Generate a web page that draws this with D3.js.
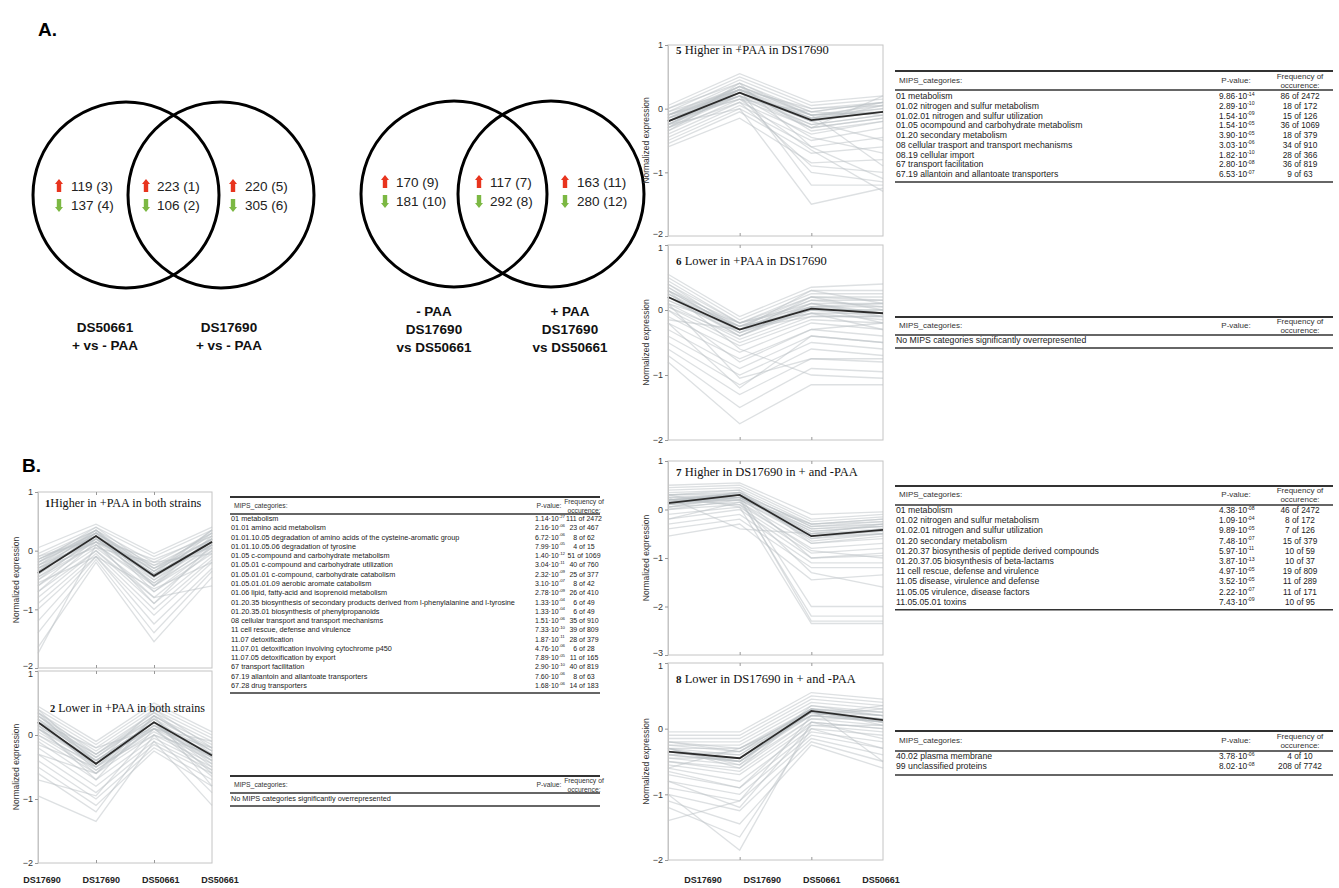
<!DOCTYPE html>
<html><head><meta charset="utf-8">
<script src="https://cdn.jsdelivr.net/npm/d3@7"></script>
<style>body{margin:0;background:#fff}svg{display:block;font-family:"Liberation Sans",Arial,sans-serif}</style>
</head><body>
<svg id="chart" width="1339" height="888"></svg>
<script>
// ---------------- DATA ----------------
const xCategories = ["DS17690","DS17690","DS50661","DS50661"];
const yTicksA = [1,0,-1,-2];
const yTicksB = [1,0,-1,-2,-3];

const venn1Left = ["119 (3)","137 (4)"];
const venn1Mid = ["223 (1)","106 (2)"];
const venn1Right = ["220 (5)","305 (6)"];
const venn2Left = ["170 (9)","181 (10)"];
const venn2Mid = ["117 (7)","292 (8)"];
const venn2Right = ["163 (11)","280 (12)"];
const venn1Labels = [["DS50661","+ vs - PAA"],["DS17690","+ vs - PAA"]];
const venn2Labels = [["- PAA","DS17690","vs DS50661"],["+ PAA","DS17690","vs DS50661"]];

// Cluster mean profiles
const mean1 = [-0.38, 0.25, -0.43, 0.15];
const mean2 = [0.2, -0.45, 0.2, -0.32];
const mean5 = [-0.2, 0.25, -0.18, -0.05];
const mean6 = [0.2, -0.3, 0.02, -0.05];
const mean7 = [0.13, 0.3, -0.55, -0.42];
const mean8 = [-0.35, -0.45, 0.27, 0.13];

// Representative individual gene profiles
const genes1 = [[0.05,0.45,-0.05,0.4],[-0.05,0.4,-0.1,0.35],[-0.1,0.35,-0.2,0.3],[-0.15,0.3,-0.25,0.25],[-0.2,0.3,-0.3,0.2],[-0.25,0.25,-0.35,0.2],[-0.3,0.2,-0.4,0.15],[-0.35,0.2,-0.45,0.1],[-0.4,0.15,-0.5,0.1],[-0.45,0.1,-0.55,0.05],[-0.5,0.1,-0.6,0.0],[-0.6,0.05,-0.7,-0.05],[-0.7,0.0,-0.8,0.0],[-0.8,0.0,-0.9,-0.1],[-0.9,-0.05,-1.0,-0.15],[-1.0,-0.1,-1.1,-0.2],[-1.2,-0.1,-1.25,-0.3],[-1.4,-0.15,-1.4,-0.35],[-1.65,-0.2,-1.55,-0.45],[-1.75,0.1,-0.8,-0.6],[-0.2,0.4,-0.3,0.3],[-0.3,0.05,-0.2,-0.05],[-0.55,-0.1,-0.65,-0.2],[-0.1,0.2,-0.15,0.25],[-0.35,0.35,-0.6,0.25],[-0.15,0.25,-0.4,0.35],[-0.25,0.15,-0.25,0.05],
 [-0.3,0.3,-0.35,0.2],[-0.35,0.25,-0.4,0.15],[-0.4,0.3,-0.5,0.2],[-0.45,0.2,-0.45,0.15],[-0.25,0.35,-0.45,0.3],[-0.5,0.25,-0.4,0.1],[-0.6,0.2,-0.55,0.2],[-0.3,0.15,-0.3,0.1],[-0.2,0.25,-0.6,0.1],[-0.4,0.3,-0.7,0.05],[-0.7,0.15,-0.9,0.1],[-0.15,0.35,-0.35,0.35]];
const genes2 = [[0.45,-0.1,0.5,0.05],[0.4,-0.15,0.45,0.0],[0.35,-0.2,0.4,-0.05],[0.3,-0.25,0.35,-0.1],[0.25,-0.3,0.3,-0.15],[0.2,-0.35,0.25,-0.2],[0.15,-0.4,0.2,-0.25],[0.1,-0.45,0.15,-0.3],[0.05,-0.5,0.1,-0.35],[0.0,-0.55,0.05,-0.4],[-0.05,-0.6,0.0,-0.45],[-0.1,-0.7,-0.05,-0.5],[-0.2,-0.8,-0.1,-0.55],[-0.3,-0.9,-0.15,-0.6],[-0.4,-1.0,-0.2,-0.7],[-0.5,-1.1,-0.25,-0.8],[-0.6,-1.2,0.0,-0.9],[-0.95,-1.35,-0.1,-1.1],[-0.7,-0.95,0.1,-0.65],[0.3,-0.4,0.2,-0.6],[0.1,-0.6,0.3,-0.8],[-0.15,-0.5,0.0,-0.3],[0.35,-0.3,0.35,-0.3],[0.2,-0.2,0.1,-0.1],
 [0.25,-0.4,0.2,-0.3],[0.2,-0.5,0.25,-0.35],[0.15,-0.45,0.15,-0.4],[0.3,-0.35,0.3,-0.25],[0.1,-0.4,0.1,-0.2],[0.35,-0.5,0.2,-0.45],[0.2,-0.3,0.25,-0.4],[0.0,-0.45,0.2,-0.5],[0.4,-0.45,0.4,-0.2],[-0.3,-0.6,0.15,-0.35],[0.15,-0.7,0.3,-0.25],[0.25,-0.55,0.1,-0.55]];
const genes5 = [[0.05,0.55,0.1,0.2],[0.0,0.5,0.05,0.15],[-0.05,0.45,0.0,0.1],[-0.1,0.4,-0.05,0.1],[-0.15,0.35,-0.1,0.05],[-0.2,0.3,-0.15,0.0],[-0.25,0.25,-0.2,-0.05],[-0.3,0.2,-0.25,-0.1],[-0.35,0.15,-0.3,-0.15],[-0.4,0.1,-0.4,-0.2],[-0.45,0.05,-0.5,-0.3],[-0.5,0.0,-0.6,-0.45],[-0.55,-0.05,-0.7,-0.6],[-0.6,-0.15,-0.85,-0.8],[-0.3,0.1,-0.9,-1.0],[-0.2,0.2,-1.0,-1.15],[-0.1,0.3,-1.2,-1.2],[-0.25,0.0,-1.5,-1.25],[-0.15,0.15,-0.65,-1.3],[-0.35,0.3,-0.3,0.2],[0.0,0.4,-0.1,-0.9],[-0.2,0.25,-0.2,-0.5],[-0.1,0.35,-0.05,0.1],[-0.25,0.2,-0.1,-0.05],
 [-0.15,0.3,-0.1,0.0],[-0.2,0.25,-0.15,-0.05],[-0.25,0.3,-0.2,0.05],[-0.1,0.25,-0.25,-0.1],[-0.2,0.35,-0.1,-0.05],[-0.3,0.25,-0.15,0.1],[-0.15,0.2,-0.3,-0.15],[-0.05,0.3,0.0,0.05],[-0.2,0.15,-0.05,-0.1],[-0.25,0.35,-0.35,-0.2],[-0.1,0.2,-0.45,-0.7],[-0.3,0.4,-0.6,-1.1]];
const genes6 = [[0.55,-0.1,0.35,0.4],[0.5,-0.15,0.3,0.3],[0.45,-0.2,0.25,0.25],[0.4,-0.2,0.2,0.2],[0.35,-0.25,0.15,0.15],[0.3,-0.3,0.1,0.1],[0.25,-0.35,0.05,0.05],[0.2,-0.4,0.0,0.0],[0.1,-0.45,-0.05,-0.05],[0.05,-0.5,-0.1,-0.1],[0.0,-0.55,-0.15,-0.2],[-0.1,-0.65,-0.2,-0.3],[-0.2,-0.75,-0.3,-0.4],[-0.3,-0.9,-0.4,-0.5],[-0.4,-1.0,-0.5,-0.6],[-0.5,-1.15,-0.6,-0.7],[-0.6,-1.3,-0.75,-0.8],[-0.7,-1.5,-0.9,-0.95],[-0.8,-1.75,-1.15,-1.15],[0.3,-0.6,-1.0,-1.05],[0.1,-1.05,-0.75,-0.75],[0.4,-0.3,0.3,0.1],[-0.15,-0.3,-0.05,-0.3],[0.2,-0.25,0.2,0.15],[0.3,-0.2,0.1,-0.1],
 [0.2,-0.3,0.05,-0.05],[0.25,-0.25,0.0,0.0],[0.15,-0.35,0.0,-0.1],[0.3,-0.3,0.15,0.05],[0.1,-0.25,-0.05,-0.15],[0.25,-0.4,0.1,-0.05],[0.2,-0.2,0.05,0.1],[0.15,-0.3,-0.1,-0.1],[0.35,-0.35,0.2,0.0],[0.05,-0.4,0.05,-0.2],[0.0,-0.8,-0.3,-0.2],[-0.2,-1.2,-0.4,-0.5]];
const genes7 = [[0.5,0.55,-0.1,-0.05],[0.45,0.5,-0.2,-0.1],[0.4,0.45,-0.25,-0.15],[0.35,0.4,-0.3,-0.2],[0.3,0.35,-0.35,-0.25],[0.25,0.3,-0.4,-0.3],[0.2,0.3,-0.45,-0.35],[0.15,0.25,-0.5,-0.4],[0.1,0.2,-0.6,-0.5],[0.05,0.15,-0.7,-0.6],[0.0,0.1,-0.8,-0.7],[-0.1,0.05,-0.9,-0.8],[-0.2,0.0,-1.0,-0.95],[-0.3,-0.1,-1.1,-1.1],[-0.4,-0.2,-1.2,-1.2],[-0.55,-0.3,-1.45,-1.35],[0.2,0.3,-2.0,-2.0],[0.15,0.2,-2.2,-2.2],[0.1,0.25,-2.3,-2.3],[0.3,0.05,-2.35,-2.35],[0.2,0.1,-1.3,-1.6],[0.25,-0.4,-0.5,-0.3],[0.3,0.3,-0.3,-0.2],[0.2,0.25,-0.55,-0.45],
 [0.15,0.3,-0.55,-0.4],[0.1,0.3,-0.5,-0.45],[0.2,0.35,-0.6,-0.4],[0.05,0.25,-0.45,-0.35],[0.15,0.35,-0.65,-0.5],[0.25,0.25,-0.4,-0.35],[0.1,0.35,-0.35,-0.3],[0.0,0.2,-0.55,-0.5],[0.3,0.4,-0.7,-0.55],[0.2,0.2,-0.3,-0.25],[-0.2,0.15,-0.85,-1.0],[0.05,0.3,-1.0,-0.9]];
const genes8 = [[-0.05,-0.05,0.55,0.45],[-0.1,-0.1,0.5,0.4],[-0.15,-0.15,0.45,0.35],[-0.2,-0.2,0.4,0.3],[-0.25,-0.25,0.35,0.25],[-0.3,-0.3,0.3,0.2],[-0.35,-0.4,0.25,0.15],[-0.4,-0.5,0.2,0.1],[-0.45,-0.55,0.15,0.05],[-0.5,-0.65,0.1,0.0],[-0.55,-0.7,0.05,-0.05],[-0.6,-0.8,0.0,-0.1],[-0.7,-0.9,-0.05,-0.2],[-0.8,-1.0,-0.1,-0.3],[-0.9,-1.1,-0.15,-0.4],[-1.0,-1.25,-0.2,-0.5],[-1.1,-1.45,-0.25,-0.6],[-1.2,-1.65,0.0,-0.3],[-1.0,-1.85,0.1,0.0],[-1.4,-1.1,0.2,0.3],[-0.3,-0.6,0.3,-0.5],[-0.6,-0.3,0.2,0.35],[-0.2,-0.35,0.3,0.2],[-0.3,-0.5,0.25,0.1],
 [-0.35,-0.45,0.25,0.15],[-0.3,-0.4,0.3,0.1],[-0.4,-0.5,0.25,0.2],[-0.25,-0.35,0.2,0.15],[-0.35,-0.5,0.3,0.05],[-0.45,-0.45,0.2,0.1],[-0.3,-0.55,0.35,0.2],[-0.2,-0.3,0.25,0.1],[-0.5,-0.6,0.15,0.15],[-0.4,-0.35,0.3,0.25],[-0.65,-0.9,0.1,-0.15],[-0.8,-1.2,0.05,0.05]];

// MIPS tables: [category, mantissa, exponent, frequency]
const table1Rows = [
 ["01 metabolism","1.14","-27","111 of 2472"],
 ["01.01 amino acid metabolism","2.16","-06","23 of 467"],
 ["01.01.10.05 degradation of amino acids of the cysteine-aromatic group","6.72","-06","8 of 62"],
 ["01.01.10.05.06 degradation of tyrosine","7.99","-05","4 of 15"],
 ["01.05 c-compound and carbohydrate metabolism","1.40","-12","51 of 1069"],
 ["01.05.01 c-compound and carbohydrate utilization","3.04","-11","40 of 760"],
 ["01.05.01.01 c-compound, carbohydrate catabolism","2.32","-09","25 of 377"],
 ["01.05.01.01.09 aerobic aromate catabolism","3.10","-07","8 of 42"],
 ["01.06 lipid, fatty-acid and isoprenoid metabolism","2.78","-09","26 of 410"],
 ["01.20.35 biosynthesis of secondary products derived from l-phenylalanine and l-tyrosine","1.33","-04","6 of 49"],
 ["01.20.35.01 biosynthesis of phenylpropanoids","1.33","-04","6 of 49"],
 ["08 cellular transport and transport mechanisms","1.51","-06","35 of 910"],
 ["11 cell rescue, defense and virulence","7.33","-10","39 of 809"],
 ["11.07 detoxification","1.87","-11","28 of 379"],
 ["11.07.01 detoxification involving cytochrome p450","4.76","-06","6 of 28"],
 ["11.07.05 detoxification by export","7.89","-05","11 of 165"],
 ["67 transport facilitation","2.90","-10","40 of 819"],
 ["67.19 allantoin and allantoate transporters","7.60","-06","8 of 63"],
 ["67.28 drug transporters","1.68","-06","14 of 183"]
];
const table2Rows = [];
const table5Rows = [
 ["01 metabolism","9.86","-14","86 of 2472"],
 ["01.02 nitrogen and sulfur metabolism","2.89","-10","18 of 172"],
 ["01.02.01 nitrogen and sulfur utilization","1.54","-09","15 of 126"],
 ["01.05 ocompound and carbohydrate metabolism","1.54","-05","36 of 1069"],
 ["01.20 secondary metabolism","3.90","-05","18 of 379"],
 ["08 cellular trasport and transport mechanisms","3.03","-06","34 of 910"],
 ["08.19 cellular import","1.82","-10","28 of 366"],
 ["67 transport facilitation","2.80","-08","36 of 819"],
 ["67.19 allantoin and allantoate transporters","6.53","-07","9 of 63"]
];
const table6Rows = [];
const table7Rows = [
 ["01 metabolism","4.38","-08","46 of 2472"],
 ["01.02 nitrogen and sulfur metabolism","1.09","-04","8 of 172"],
 ["01.02.01 nitrogen and sulfur utilization","9.89","-05","7 of 126"],
 ["01.20 secondary metabolism","7.48","-07","15 of 379"],
 ["01.20.37 biosynthesis of peptide derived compounds","5.97","-11","10 of 59"],
 ["01.20.37.05 biosynthesis of beta-lactams","3.87","-13","10 of 37"],
 ["11 cell rescue, defense and virulence","4.97","-05","19 of 809"],
 ["11.05 disease, virulence and defense","3.52","-05","11 of 289"],
 ["11.05.05 virulence, disease factors","2.22","-07","11 of 171"],
 ["11.05.05.01 toxins","7.43","-09","10 of 95"]
];
const table8Rows = [
 ["40.02 plasma membrane","3.78","-06","4 of 10"],
 ["99 unclassified proteins","8.02","-08","208 of 7742"]
];
const emptyTableText = "No MIPS categories significantly overrepresented";

// ---------------- DRAWING ----------------
const svg = d3.select("#chart");

svg.append("text").attr("x",38).attr("y",36).attr("font-size",19).attr("font-weight","bold").text("A.");
svg.append("text").attr("x",22).attr("y",472).attr("font-size",19).attr("font-weight","bold").text("B.");

// ---- Venn diagrams ----
function arrow(g, x, yTop, up) {
  const col = up ? "#e8341e" : "#7cb843";
  const w = 2.2, hw = 4, h = 13, hh = 5;
  let p;
  if (up) p = `M${x-w},${yTop+h} L${x-w},${yTop+hh} L${x-hw},${yTop+hh} L${x},${yTop} L${x+hw},${yTop+hh} L${x+w},${yTop+hh} L${x+w},${yTop+h} Z`;
  else p = `M${x-w},${yTop} L${x-w},${yTop+h-hh} L${x-hw},${yTop+h-hh} L${x},${yTop+h} L${x+hw},${yTop+h-hh} L${x+w},${yTop+h-hh} L${x+w},${yTop} Z`;
  g.append("path").attr("d",p).attr("fill",col);
}
function vennCounts(g, pair, ax, tx, y1, y2) {
  arrow(g, ax, y1-12, true);
  arrow(g, ax, y2-11, false);
  g.append("text").attr("x",tx).attr("y",y1).attr("font-size",13.5).attr("fill","#222").text(pair[0]);
  g.append("text").attr("x",tx).attr("y",y2).attr("font-size",13.5).attr("fill","#222").text(pair[1]);
}
const venn = svg.append("g");
[[126,195],[221,195],[454,194],[551,194]].forEach(c=>{
  venn.append("circle").attr("cx",c[0]).attr("cy",c[1]).attr("r",93).attr("fill","none").attr("stroke","#000").attr("stroke-width",3);
});
vennCounts(venn, venn1Left, 59, 71, 191, 210);
vennCounts(venn, venn1Mid, 146, 157, 191, 210);
vennCounts(venn, venn1Right, 233, 245, 191, 210);
vennCounts(venn, venn2Left, 385, 396, 187, 206);
vennCounts(venn, venn2Mid, 479, 490, 187, 206);
vennCounts(venn, venn2Right, 565, 577, 187, 206);
function vennLabel(lines, cx, y0) {
  const t = venn.append("text").attr("text-anchor","middle").attr("font-size",13.5).attr("font-weight","bold").attr("fill","#111");
  lines.forEach((l,i)=>t.append("tspan").attr("x",cx).attr("y",y0+i*18).text(l));
}
vennLabel(venn1Labels[0], 105, 332);
vennLabel(venn1Labels[1], 229, 332);
vennLabel(venn2Labels[0], 434, 316);
vennLabel(venn2Labels[1], 570, 316);

// ---- Line plots ----
const panels = [
  {num:"1", title:"Higher in +PAA in both strains", sep:"", mean:mean1, genes:genes1, ticks:yTicksA, x0:38, x1:212, y0:492, y1:668, ty:507, tx:45, fs:12.2, pos:"top"},
  {num:"2", title:"Lower in +PAA in both strains", sep:" ", mean:mean2, genes:genes2, ticks:yTicksA, x0:38, x1:212, y0:671, y1:863, ty:712, tx:50, fs:12, pos:"bottom"},
  {num:"5", title:"Higher in +PAA in DS17690", sep:" ", mean:mean5, genes:genes5, ticks:yTicksA, x0:668, x1:883, y0:45, y1:236, ty:54, tx:676, fs:12.5, pos:"top"},
  {num:"6", title:"Lower in +PAA in DS17690", sep:" ", mean:mean6, genes:genes6, ticks:yTicksA, x0:668, x1:883, y0:245, y1:440, ty:265, tx:676, fs:12.5, pos:"bottom"},
  {num:"7", title:"Higher in DS17690 in + and -PAA", sep:" ", mean:mean7, genes:genes7, ticks:yTicksB, x0:668, x1:883, y0:461, y1:655, ty:476, tx:676, fs:12.5, pos:"top"},
  {num:"8", title:"Lower in DS17690 in + and -PAA", sep:" ", mean:mean8, genes:genes8, ticks:yTicksA, x0:668, x1:883, y0:663, y1:860, ty:683, tx:676, fs:12.5, pos:"bottom"}
];
panels.forEach(p=>{
  const g = svg.append("g");
  const x = d3.scalePoint().domain(d3.range(xCategories.length)).range([p.x0,p.x1]);
  const y = d3.scaleLinear().domain([d3.min(p.ticks), d3.max(p.ticks)]).range([p.y1,p.y0]);
  const line = d3.line().x((d,i)=>x(i)).y(d=>y(d));
  g.append("rect").attr("x",p.x0).attr("y",p.y0).attr("width",p.x1-p.x0).attr("height",p.y1-p.y0)
    .attr("fill","#fff").attr("stroke","#c4c4c4").attr("stroke-width",1);
  g.selectAll("path.gene").data(p.genes).join("path").attr("class","gene")
    .attr("d",line).attr("fill","none").attr("stroke","#bcc1c5").attr("stroke-opacity",0.5).attr("stroke-width",1.3);
  g.append("path").attr("d",line(p.mean)).attr("fill","none").attr("stroke","#2b2b2b").attr("stroke-width",1.8);
  const ya = g.append("g").attr("transform",`translate(${p.x0},0)`)
    .call(d3.axisLeft(y).tickValues(p.ticks).tickFormat(d3.format("d")).tickSize(3).tickSizeOuter(0));
  ya.select(".domain").attr("stroke","#c4c4c4");
  ya.selectAll(".tick line").attr("stroke","#999");
  ya.selectAll(".tick text").attr("font-size",9).attr("fill","#333").attr("font-family","Liberation Sans, Arial").attr("dx",1)
    .attr("dy",d=>{
      if (p.pos==="top" && d===d3.min(p.ticks)) return "0.05em";
      if (p.pos==="bottom" && d===d3.max(p.ticks)) return "0.6em";
      return "0.32em";
    });
  [p.y0,p.y1].forEach((yy,k)=>{
    const ax = (k===0?d3.axisBottom(x):d3.axisTop(x)).tickValues([1,2]).tickFormat("").tickSize(3).tickSizeOuter(0);
    const gx = g.append("g").attr("transform",`translate(0,${yy})`).call(ax);
    gx.select(".domain").remove();
    gx.selectAll(".tick line").attr("stroke","#999");
  });
  g.append("text").attr("transform",`translate(${p.x0-19},${(p.y0+p.y1)/2}) rotate(-90)`)
    .attr("text-anchor","middle").attr("font-size",8.5).attr("fill","#333").text("Normalized expression");
  const t = g.append("text").attr("x",p.tx).attr("y",p.ty).attr("font-family","Liberation Serif, Times New Roman, serif").attr("font-size",p.fs).attr("fill","#111");
  t.append("tspan").attr("font-weight","bold").attr("font-size",p.fs-1.5).text(p.num);
  t.append("tspan").text(p.sep + p.title);
});

function xLabels(r0, r1) {
  const xs = d3.scalePoint().domain(d3.range(xCategories.length)).range([r0,r1]);
  svg.append("g").selectAll("text").data(xCategories).join("text")
    .attr("x",(d,i)=>xs(i)).attr("y",883).attr("text-anchor","middle")
    .attr("font-size",9).attr("font-weight","bold").attr("fill","#222").text(d=>d);
}
xLabels(42, 220);
xLabels(703, 881);

// ---- Tables ----
function drawTable(cfg, rows) {
  const g = svg.append("g").attr("fill","#222");
  g.append("line").attr("x1",cfg.x0).attr("x2",cfg.x1).attr("y1",cfg.top).attr("y2",cfg.top).attr("stroke","#333").attr("stroke-width",1.8);
  g.append("text").attr("x",cfg.x0+4).attr("y",cfg.hy).attr("font-size",cfg.hs).attr("fill","#333").text("MIPS_categories:");
  g.append("text").attr("x",cfg.px).attr("y",cfg.hy).attr("font-size",cfg.hs).attr("fill","#333").attr("text-anchor","middle").text("P-value:");
  const ft = g.append("text").attr("text-anchor","middle").attr("font-size",cfg.hs).attr("fill","#333");
  ft.append("tspan").attr("x",cfg.fx).attr("y",cfg.hy-4.5).text("Frequency of");
  ft.append("tspan").attr("x",cfg.fx).attr("y",cfg.hy+4.5).text("occurence:");
  g.append("line").attr("x1",cfg.x0).attr("x2",cfg.x1).attr("y1",cfg.hl).attr("y2",cfg.hl).attr("stroke","#333").attr("stroke-width",1.4);
  let last;
  if (rows.length===0) {
    g.append("text").attr("x",cfg.x0+1).attr("y",cfg.r0).attr("font-size",cfg.cs).text(emptyTableText);
    last = cfg.r0;
  } else {
    const yr = d3.scaleLinear().domain([0,rows.length-1]).range([cfg.r0, cfg.r0+cfg.step*(rows.length-1)]);
    rows.forEach((r,i)=>{
      const yy = yr(i);
      g.append("text").attr("x",cfg.x0+1).attr("y",yy).attr("font-size",cfg.cs).text(r[0]);
      const pt = g.append("text").attr("x",cfg.pv).attr("y",yy).attr("font-size",cfg.vs);
      pt.append("tspan").text(r[1]+"\u00b710");
      pt.append("tspan").attr("dy",-3.5).attr("font-size",cfg.vs*0.62).text(r[2]);
      g.append("text").attr("x",cfg.fx).attr("y",yy).attr("text-anchor","middle").attr("font-size",cfg.vs).text(r[3]);
    });
    last = yr(rows.length-1);
  }
  const by = last + cfg.bot;
  g.append("line").attr("x1",cfg.x0).attr("x2",cfg.x1).attr("y1",by).attr("y2",by).attr("stroke","#333").attr("stroke-width",1.6);
}
const L = {x0:230,x1:600,hs:6.8,cs:7.3,vs:7.0,px:549,pv:535,fx:584,bot:5};
const R = {x0:895,x1:1333,hs:8,cs:8.7,vs:8.3,px:1236,pv:1219,fx:1300,bot:5};
drawTable(Object.assign({},L,{top:497,hy:508,hl:514,r0:521,step:9.28}), table1Rows);
drawTable(Object.assign({},L,{top:776,hy:787,hl:793,r0:801,step:9}), table2Rows);
drawTable(Object.assign({},R,{top:71,hy:83,hl:90,r0:99,step:9.75}), table5Rows);
drawTable(Object.assign({},R,{top:317,hy:328,hl:335,r0:343,step:9}), table6Rows);
drawTable(Object.assign({},R,{top:486,hy:497,hl:505,r0:513,step:10.2}), table7Rows);
drawTable(Object.assign({},R,{top:731,hy:743,hl:751,r0:759,step:10,bot:6}), table8Rows);
</script>
</body></html>
